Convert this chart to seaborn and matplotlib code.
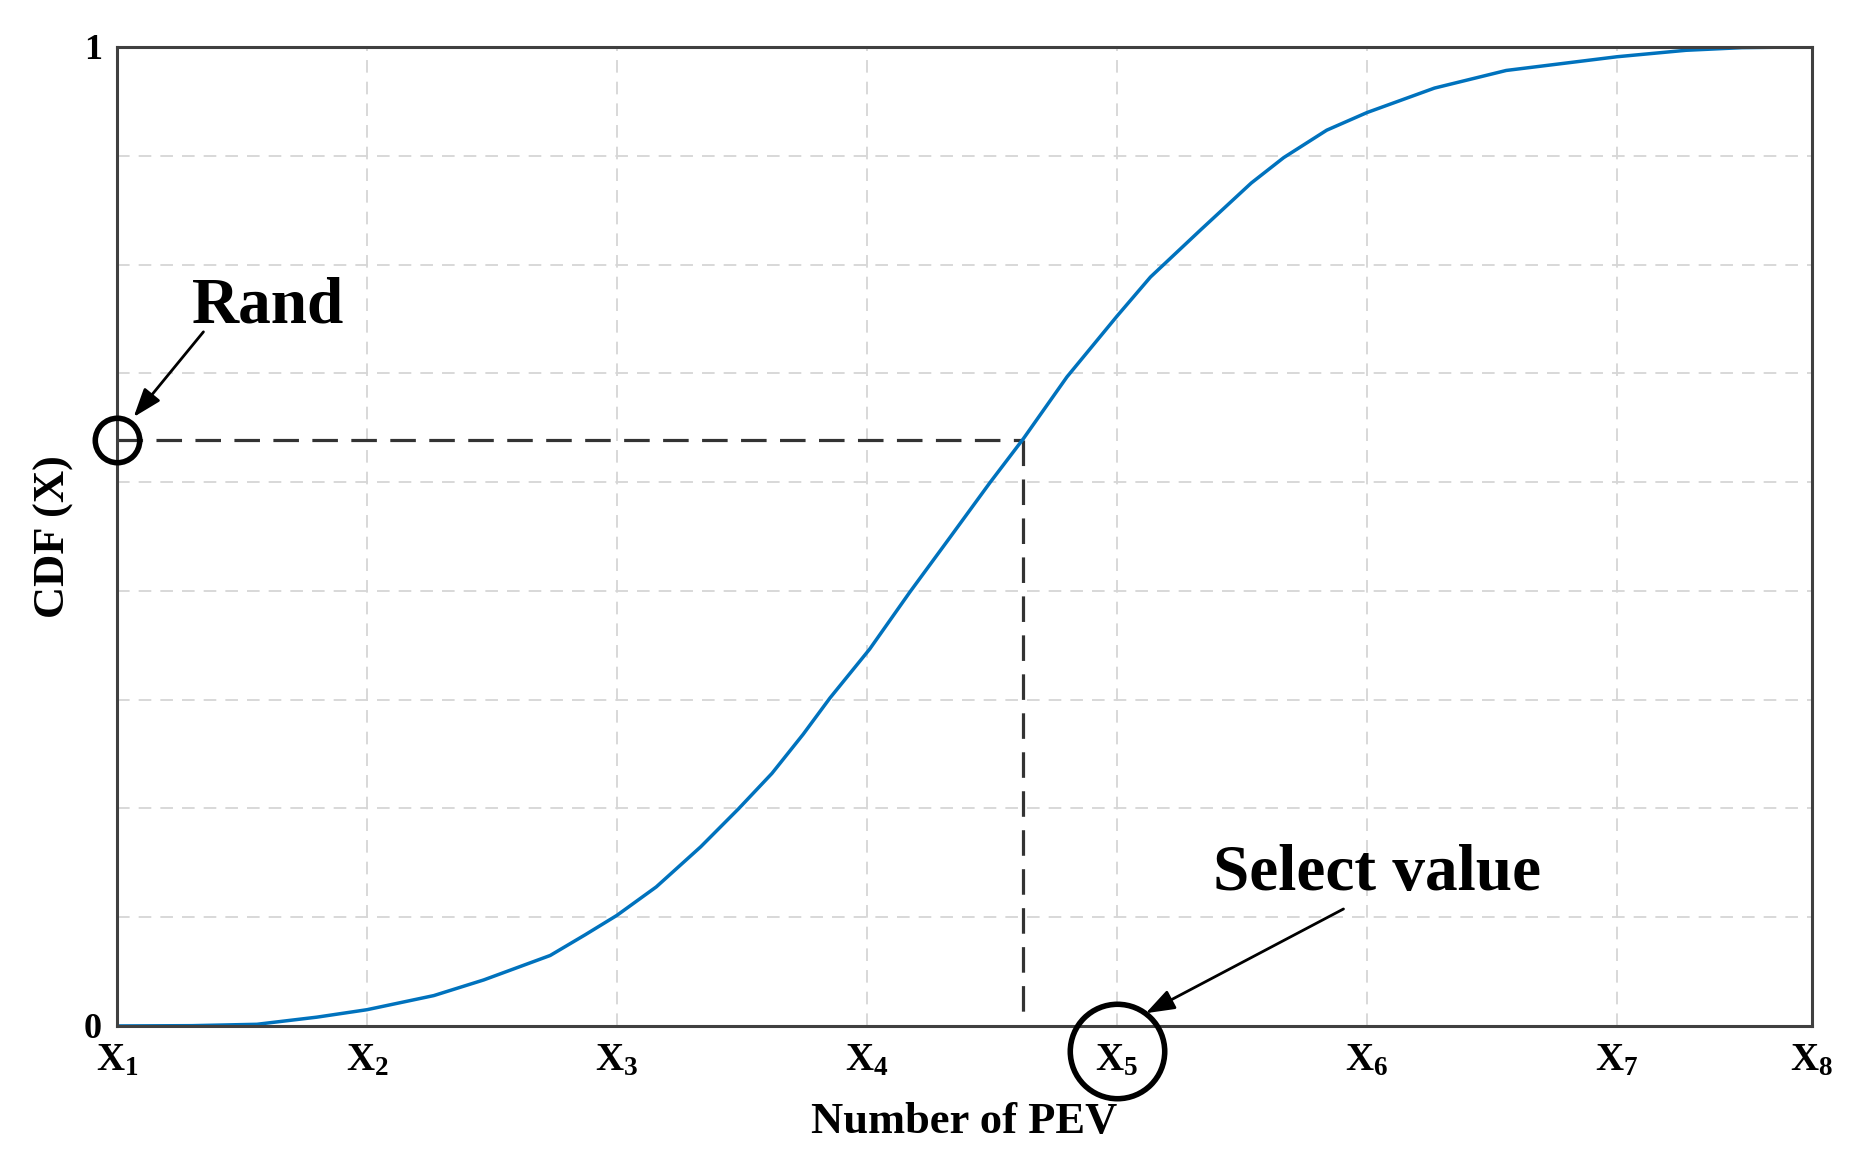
import numpy as np
import pandas as pd
import seaborn as sns
import matplotlib.pyplot as plt

# CDF curve
cdf_x = [0, 0.3, 0.56, 0.8, 1.0, 1.267, 1.467, 1.733, 1.872, 2.0, 2.157, 2.335, 2.487,
         2.62, 2.745, 2.852, 3.011, 3.171, 3.332, 3.492, 3.626, 3.80, 4.0, 4.134, 4.334,
         4.537, 4.667, 4.839, 5.0, 5.27, 5.557, 6.0, 6.276, 6.5, 6.73]
cdf_y = [0, 0.0003, 0.0017, 0.009, 0.0166, 0.031, 0.047, 0.072, 0.093, 0.113, 0.142, 0.183, 0.222,
         0.258, 0.298, 0.335, 0.385, 0.443, 0.499, 0.555, 0.600, 0.663, 0.725, 0.765, 0.813,
         0.861, 0.887, 0.915, 0.933, 0.958, 0.976, 0.990, 0.9966, 0.9993, 1.0]

x_ticks = [0, 1, 2, 3, 4, 5, 6, 6.78]
x_labels = [r'$\mathbf{X_%d}$' % i for i in range(1, 9)]
y_ticks = np.linspace(0, 1, 10)
y_labels = ['0'] + [''] * 8 + ['1']

rand_value = 0.599   # random number drawn on the CDF axis
select_x = 3.626     # where it hits the curve
picked_x = 4         # X5, the selected value

df = pd.DataFrame({'x': cdf_x, 'cdf': cdf_y})

sns.set_style('white')
plt.rcParams['font.family'] = ['Liberation Serif', 'DejaVu Serif']
plt.rcParams['font.weight'] = 'bold'
plt.rcParams['text.color'] = 'black'
plt.rcParams['axes.labelcolor'] = 'black'
plt.rcParams['xtick.color'] = 'black'
plt.rcParams['ytick.color'] = 'black'
plt.rcParams['mathtext.fontset'] = 'custom'
plt.rcParams['mathtext.rm'] = 'Liberation Serif'
plt.rcParams['mathtext.bf'] = 'Liberation Serif:bold'
plt.rcParams['mathtext.it'] = 'Liberation Serif:italic'

fig = plt.figure(figsize=(18.56, 11.74), dpi=100)
ax = fig.add_axes([0.063, 0.1261, 0.9133, 0.8339])

sns.lineplot(data=df, x='x', y='cdf', ax=ax, color='#0072BD', linewidth=2.5, zorder=4)

# dashed lookup lines
ax.plot([0, select_x], [rand_value, rand_value], color='#333333', lw=2.3,
        linestyle=(0, (8, 4.2)), zorder=3)
ax.plot([select_x, select_x], [rand_value, 0.008], color='#333333', lw=2.3,
        linestyle=(0, (8, 4.2)), zorder=3)

# circles
ax.plot([0], [rand_value], marker='o', ms=32, mfc='none', mec='black', mew=4,
        clip_on=False, zorder=6)
ax.plot([picked_x], [-0.026], marker='o', ms=68, mfc='none', mec='black', mew=4,
        clip_on=False, zorder=6)

# annotations
arrow = dict(arrowstyle='-|>,head_length=0.7,head_width=0.25', color='black', lw=2,
             mutation_scale=25, shrinkA=0, shrinkB=0)
ax.annotate('', xy=(0.067, 0.622), xytext=(0.346, 0.709), arrowprops=arrow)
ax.text(0.604, 0.719, 'Rand', fontsize=47, fontweight='bold', ha='center', va='baseline')
ax.annotate('', xy=(4.115, 0.013), xytext=(4.906, 0.1195), arrowprops=arrow,
            annotation_clip=False)
ax.text(5.04, 0.139, 'Select value', fontsize=47, fontweight='bold', ha='center', va='baseline')

ax.set_xlim(0, 6.78)
ax.set_ylim(0, 1)
ax.set_xticks(x_ticks)
ax.set_xticklabels(x_labels, fontsize=28)
ax.set_yticks(y_ticks)
ax.set_yticklabels(y_labels, fontsize=26, fontweight='bold')
ax.tick_params(axis='x', length=0, pad=12)
ax.tick_params(axis='y', direction='in', length=7, width=1.8, color='#404040', pad=11)

ax.grid(True, color='#d6d6d6', linewidth=1.3, linestyle=(0, (7, 5)))
for s in ax.spines.values():
    s.set_visible(True)
    s.set_color('#404040')
    s.set_linewidth(2.2)
    s.set_zorder(5)

ax.set_xlabel('Number of PEV', fontsize=32, fontweight='bold', labelpad=16)
ax.set_ylabel('CDF (X)', fontsize=32, fontweight='bold', labelpad=7)

plt.savefig('out.png', dpi=100)
